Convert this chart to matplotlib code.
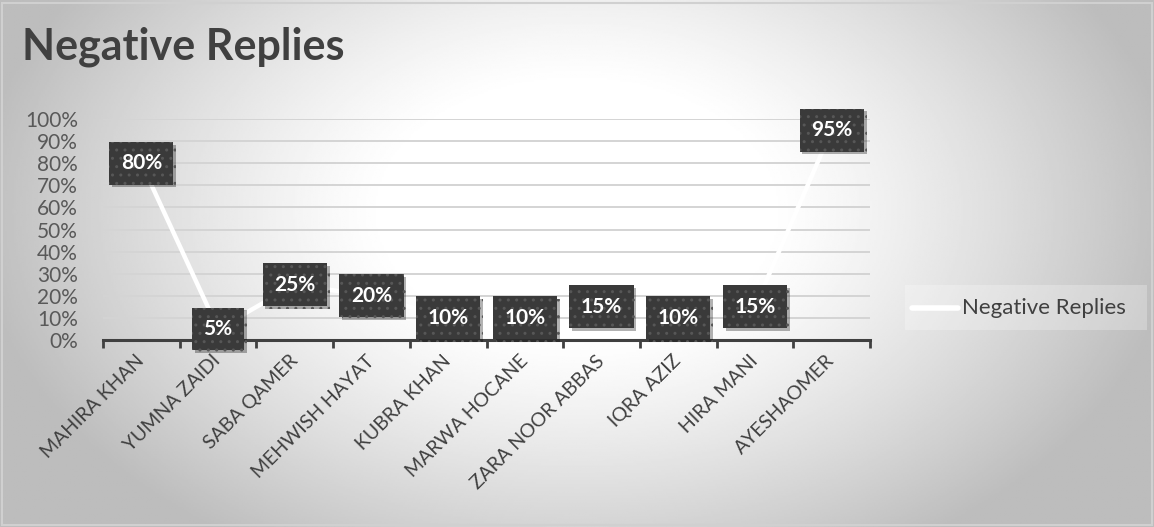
import numpy as np
import matplotlib.pyplot as plt
import matplotlib.patheffects as pe
from matplotlib.lines import Line2D
from matplotlib.patches import Rectangle

names = ["MAHIRA KHAN", "YUMNA ZAIDI", "SABA QAMER", "MEHWISH HAYAT", "KUBRA KHAN",
         "MARWA HOCANE", "ZARA NOOR ABBAS", "IQRA AZIZ", "HIRA MANI", "AYESHAOMER"]
negative = [0.80, 0.05, 0.25, 0.20, 0.10, 0.10, 0.15, 0.10, 0.15, 0.95]
y_ticks = [i / 10 for i in range(11)]

FONT = ["Lato", "DejaVu Sans"]
DARK = "#404040"
GREY = "#595959"

fig = plt.figure(figsize=(11.54, 5.27), dpi=100)

# radial background gradient, white in the middle, grey at the edges
bg = fig.add_axes([0, 0, 1, 1], zorder=-10)
xx, yy = np.meshgrid(np.linspace(0, 1, 600), np.linspace(0, 1, 300))
r = np.sqrt(((xx - 0.5) / 0.55) ** 2 + ((yy - 0.6) / 0.8) ** 2)
shade = 1.0 - 0.26 * np.clip((r - 0.3) / 0.65, 0, 1) ** 1.2
bg.imshow(shade, cmap="gray", vmin=0, vmax=1, extent=[0, 1, 0, 1], aspect="auto", origin="lower")
bg.add_patch(Rectangle((0.002, 0.004), 0.996, 0.99, fill=False, ec="#d0d0d0", lw=1.5))
bg.set_xlim(0, 1)
bg.set_ylim(0, 1)
bg.axis("off")

ax = fig.add_axes([0.0893, 0.3548, 0.6646, 0.4194])
ax.patch.set_alpha(0)
x = np.arange(len(names))
ax.plot(x, negative, color="white", lw=3.2, solid_capstyle="round", zorder=3)

# dark data-label boxes with a small drop shadow
for xi, v in zip(x, negative):
    t = ax.text(xi, v, f"{int(round(v * 100))}%", ha="center", va="center", fontsize=15,
                fontweight="bold", color="white", family=FONT, zorder=5,
                bbox=dict(boxstyle="square,pad=0.55", fc="#3a3a3a", ec="#575757", hatch="..", lw=0))
    t.get_bbox_patch().set_path_effects(
        [pe.SimplePatchShadow(offset=(2, -2), shadow_rgbFace="black", alpha=0.3), pe.Normal()])

ax.set_xlim(-0.5, len(names) - 0.5)
ax.set_ylim(0, 1)
ax.set_yticks(y_ticks)
ax.set_yticklabels([f"{int(t * 100)}%" for t in y_ticks], family=FONT, fontsize=15, color=GREY)
ax.yaxis.grid(True, color="#d4d4d4", lw=1.4, zorder=0)
ax.set_axisbelow(True)
ax.tick_params(axis="y", length=0, pad=18)

# labels at category centres, tick marks between categories
ax.set_xticks(x)
ax.set_xticklabels(names, rotation=45, ha="right", va="center", rotation_mode="anchor",
                   family=FONT, fontsize=14, color=DARK)
ax.set_xticks(np.arange(-0.5, len(names)), minor=True)
ax.tick_params(axis="x", which="major", length=0, pad=13)
ax.tick_params(axis="x", which="minor", length=6, width=2, color=DARK, direction="out")
for s in ["top", "right", "left"]:
    ax.spines[s].set_visible(False)
ax.spines["bottom"].set_color(DARK)
ax.spines["bottom"].set_linewidth(2.2)
ax.spines["bottom"].set_zorder(3)

fig.text(0.019, 0.912, "Negative Replies", fontsize=31, fontweight="bold", color=DARK,
         family=FONT, ha="left", va="center")

# legend
bg.add_patch(Rectangle((905 / 1154, 1 - 330 / 527), 242 / 1154, 45 / 527,
                       fc="white", ec="none", alpha=0.25))
bg.add_line(Line2D([912 / 1154, 958 / 1154], [1 - 308 / 527] * 2, color="white", lw=4,
                   solid_capstyle="round"))
bg.text(962 / 1154, 1 - 308 / 527, "Negative Replies", fontsize=16, color=DARK,
        family=FONT, ha="left", va="center")

fig.savefig("out.png", dpi=100)
